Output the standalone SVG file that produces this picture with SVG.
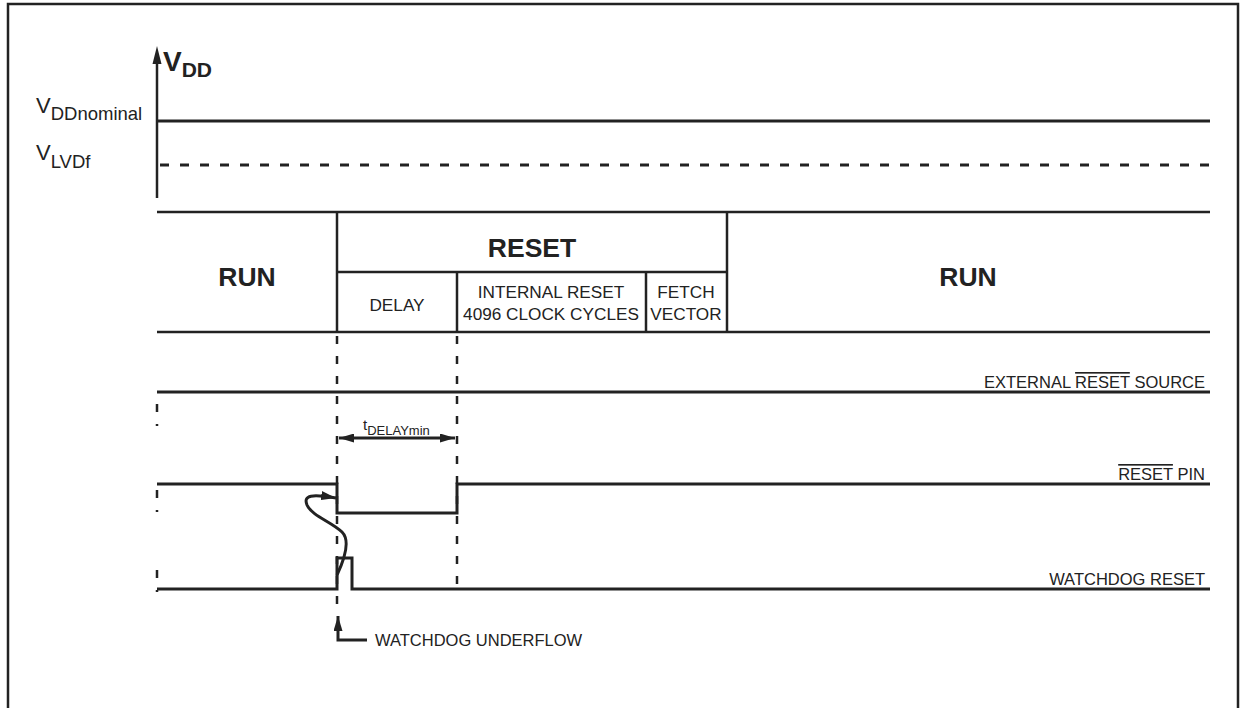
<svg xmlns="http://www.w3.org/2000/svg" width="1242" height="708" viewBox="0 0 1242 708">
<style>
text{font-family:"Liberation Sans",Arial,sans-serif;fill:#222}
.b{font-weight:bold}
.ln{stroke:#222;stroke-width:3;fill:none}
.tb{stroke:#222;stroke-width:2.5;fill:none}
.dv{stroke:#222;stroke-width:2.5;fill:none;stroke-dasharray:8 12}
.s16{font-size:16.5px}
.s17{font-size:17.2px}
.big{font-size:26.5px;font-weight:bold}
</style>
<defs>
<marker id="ah" viewBox="0 0 15 9" refX="15" refY="4.5" markerWidth="15" markerHeight="9" markerUnits="userSpaceOnUse" orient="auto-start-reverse">
<path d="M0,0 L15,4.5 L0,9 z" fill="#222"/>
</marker>
</defs>
<rect width="1242" height="708" fill="#fff"/>
<path d="M8,708 V4 H1238 V708" class="tb" stroke-width="3"/>

<g id="vdd-axis">
<line x1="157" y1="198" x2="157" y2="62" class="tb"/>
<path d="M157,46 L161.5,64 L152.5,64 z" fill="#222"/>
<text x="163" y="71" class="b" font-size="28">V<tspan font-size="21" dy="6">DD</tspan></text>
</g>

<g id="vdd-nominal">
<line x1="157" y1="121" x2="1210" y2="121" class="ln"/>
<text x="36" y="113" font-size="22">V<tspan font-size="18.5" dy="7">DDnominal</tspan></text>
</g>

<g id="vlvdf">
<line x1="160" y1="165" x2="1210" y2="165" class="ln" stroke-dasharray="9 11"/>
<text x="36" y="160" font-size="22">V<tspan font-size="18.5" dy="8">LVDf</tspan></text>
</g>

<g id="state-table">
<line x1="157" y1="212" x2="1210" y2="212" class="tb"/>
<line x1="157" y1="332" x2="1210" y2="332" class="tb"/>
<line x1="337" y1="212" x2="337" y2="332" class="tb"/>
<line x1="727" y1="212" x2="727" y2="332" class="tb"/>
<line x1="337" y1="272" x2="727" y2="272" class="tb"/>
<line x1="457" y1="272" x2="457" y2="332" class="tb"/>
<line x1="646" y1="272" x2="646" y2="332" class="tb"/>
<text x="247" y="286" class="big" text-anchor="middle">RUN</text>
<text x="532" y="257" class="big" text-anchor="middle">RESET</text>
<text x="968" y="286" class="big" text-anchor="middle">RUN</text>
<text x="397" y="311" class="s17" text-anchor="middle">DELAY</text>
<text x="551" y="298" class="s17" text-anchor="middle">INTERNAL RESET</text>
<text x="551" y="320" class="s17" text-anchor="middle">4096 CLOCK CYCLES</text>
<text x="686" y="298" class="s17" text-anchor="middle">FETCH</text>
<text x="686" y="320" class="s17" text-anchor="middle">VECTOR</text>
</g>

<g id="connectors">
<line x1="337" y1="336" x2="337" y2="612" class="dv"/>
<line x1="457" y1="336" x2="457" y2="590" class="dv"/>
<line x1="157" y1="404" x2="157" y2="426" class="dv" stroke-dasharray="7 7"/>
<line x1="157" y1="490" x2="157" y2="512" class="dv" stroke-dasharray="7 7"/>
<line x1="157" y1="570" x2="157" y2="592" class="dv" stroke-dasharray="7 7"/>
<line x1="339" y1="438" x2="455" y2="438" class="ln" marker-start="url(#ah)" marker-end="url(#ah)"/>
<path d="M337,575 C345,558 350,540 342,532 C332,522 312,516 307,505 C303,495 312,494 336,498" class="ln" stroke-width="2.2" marker-end="url(#ah)"/>
<path d="M367,640 H338 V616" class="ln" marker-end="url(#ah)"/>
</g>

<g id="ext-reset-source">
<line x1="157" y1="392" x2="1210" y2="392" class="ln"/>
<text x="1205" y="388" class="s16" text-anchor="end">EXTERNAL <tspan text-decoration="overline">RESET</tspan> SOURCE</text>
</g>

<g id="reset-pin">
<path d="M157,484 H337 V513 H457 V484 H1210" class="ln"/>
<text x="1205" y="480" class="s16" text-anchor="end"><tspan text-decoration="overline">RESET</tspan> PIN</text>
</g>

<g id="watchdog-reset">
<path d="M157,589 H337 V558 H352 V589 H1210" class="ln"/>
<text x="1205" y="585" class="s16" text-anchor="end">WATCHDOG RESET</text>
</g>

<g id="tdelay-label">
<text x="363" y="430" font-size="15">t<tspan font-size="13" dy="5">DELAYmin</tspan></text>
</g>

<g id="watchdog-underflow">
<text x="375" y="646" class="s16">WATCHDOG UNDERFLOW</text>
</g>
</svg>
